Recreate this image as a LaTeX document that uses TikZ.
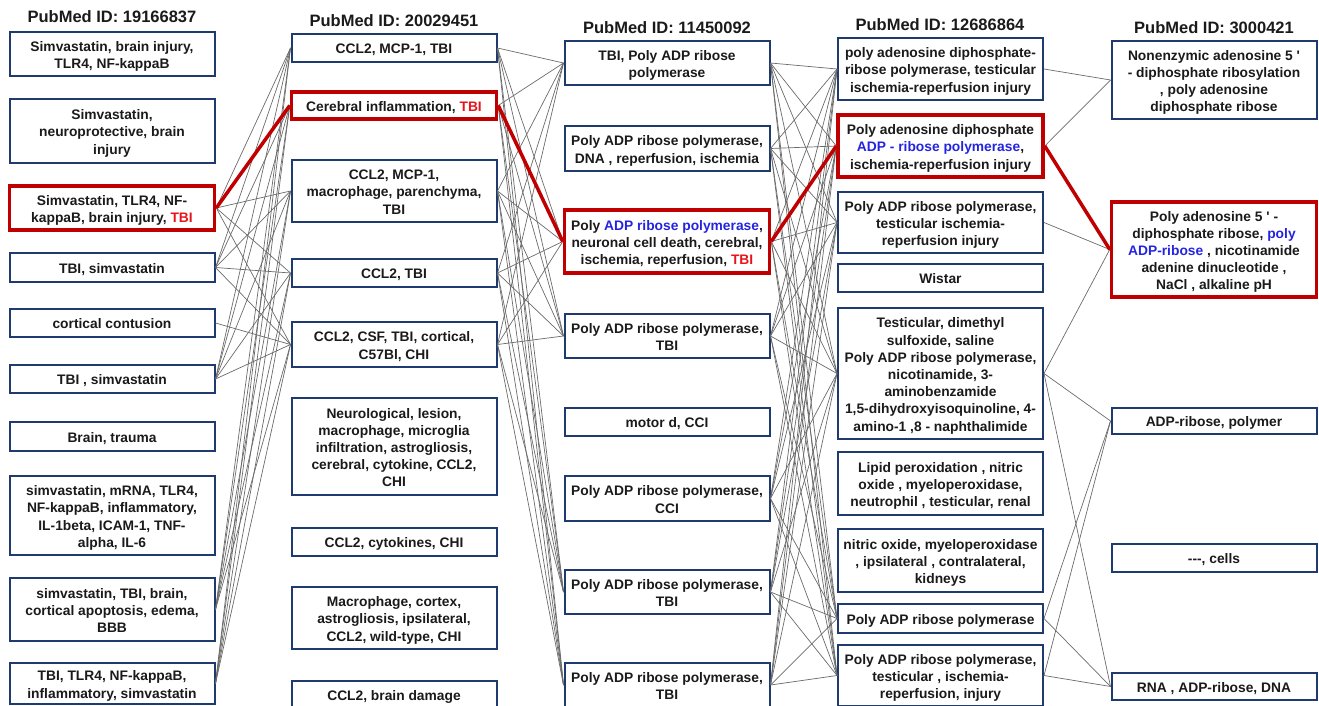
\documentclass[tikz,border=0pt]{standalone}
\usepackage{fontspec}
\setmainfont{Liberation Sans}[Ligatures=TeXOff]
\definecolor{boxblue}{HTML}{1F3A6E}
\definecolor{hlred}{HTML}{C00000}
\definecolor{tbired}{HTML}{E8141B}
\definecolor{kwblue}{HTML}{2424E0}
\definecolor{linkgray}{HTML}{6A6A6A}
\definecolor{txt}{HTML}{1A1A1A}
\newcommand{\rt}[1]{\textcolor{tbired}{#1}}
\newcommand{\bt}[1]{\textcolor{kwblue}{#1}}
\newcommand{\bxt}[1]{\raisebox{-2.5pt}[\height][\depth]{\begin{tabular}{@{}c@{}}#1\end{tabular}}}
\tikzset{
  box/.style={draw=boxblue, line width=2pt, minimum width=205pt, inner xsep=0pt, inner ysep=0pt,
    font=\fontsize{13.8}{17.2}\selectfont\bfseries, text=txt},
  hlbox/.style={box, draw=hlred, line width=3.5pt},
  coltitle/.style={font=\fontsize{16.5}{18}\selectfont\bfseries, text=txt},
  link/.style={draw=linkgray, line width=0.7pt},
  hllink/.style={draw=hlred, line width=3.5pt},
}
\begin{document}
\begin{tikzpicture}[x=1pt,y=-1pt]
\useasboundingbox (0,0) rectangle (1319,706);
% titles
\node[coltitle] (ta) at (112,17) {PubMed ID: 19166837};
\node[coltitle] (tb) at (394,21) {PubMed ID: 20029451};
\node[coltitle] (tc) at (667,28) {PubMed ID: 11450092};
\node[coltitle] (td) at (940,25) {PubMed ID: 12686864};
\node[coltitle] (te) at (1214,28) {PubMed ID: 3000421};
% column A
\node[box, minimum height=44pt] (a1) at (112,54) {\bxt{Simvastatin, brain injury,\\TLR4, NF-kappaB}};
\node[box, minimum height=64pt] (a2) at (112,131) {\bxt{Simvastatin,\\neuroprotective, brain\\injury}};
\node[hlbox, minimum height=44pt] (a3) at (112,208) {\bxt{Simvastatin, TLR4, NF-\\kappaB, brain injury, \rt{TBI}}};
\node[box, minimum height=29pt] (a4) at (112,267.5) {\bxt{TBI, simvastatin}};
\node[box, minimum height=28pt] (a5) at (112,323) {\bxt{cortical contusion}};
\node[box, minimum height=28pt] (a6) at (112,379) {\bxt{TBI , simvastatin}};
\node[box, minimum height=29pt] (a7) at (112,436.5) {\bxt{Brain, trauma}};
\node[box, minimum height=79pt] (a8) at (112,515.5) {\bxt{simvastatin, mRNA, TLR4,\\NF-kappaB, inflammatory,\\IL-1beta, ICAM-1, TNF-\\alpha, IL-6}};
\node[box, minimum height=63pt] (a9) at (112,609.5) {\bxt{simvastatin, TBI, brain,\\cortical apoptosis, edema,\\BBB}};
\node[box, minimum height=41pt] (a10) at (112,683.5) {\bxt{TBI, TLR4, NF-kappaB,\\inflammatory, simvastatin}};
% column B
\node[box, minimum height=28pt] (b1) at (394,48) {\bxt{CCL2, MCP-1, TBI}};
\node[hlbox, minimum height=27pt] (b2) at (394,105.5) {\bxt{Cerebral inflammation, \rt{TBI}}};
\node[box, minimum height=62pt] (b3) at (394,191) {\bxt{CCL2, MCP-1,\\macrophage, parenchyma,\\TBI}};
\node[box, minimum height=28pt] (b4) at (394,273) {\bxt{CCL2, TBI}};
\node[box, minimum height=45pt] (b5) at (394,344.5) {\bxt{CCL2, CSF, TBI, cortical,\\C57Bl, CHI}};
\node[box, minimum height=97pt] (b6) at (394,446.5) {\bxt{Neurological, lesion,\\macrophage, microglia\\infiltration, astrogliosis,\\cerebral, cytokine, CCL2,\\CHI}};
\node[box, minimum height=28pt] (b7) at (394,542) {\bxt{CCL2, cytokines, CHI}};
\node[box, minimum height=62pt] (b8) at (394,618) {\bxt{Macrophage, cortex,\\astrogliosis, ipsilateral,\\CCL2, wild-type, CHI}};
\node[box, minimum height=27pt] (b9) at (394,694.5) {\bxt{CCL2, brain damage}};
% column C
\node[box, minimum height=44pt] (c1) at (667,63) {\bxt{TBI, Poly ADP ribose\\polymerase}};
\node[box, minimum height=45pt] (c2) at (667,148.5) {\bxt{Poly ADP ribose polymerase,\\DNA , reperfusion, ischemia}};
\node[hlbox, minimum height=63pt] (c3) at (667,241.5) {\bxt{Poly \bt{ADP ribose polymerase},\\neuronal cell death, cerebral,\\ischemia, reperfusion, \rt{TBI}}};
\node[box, minimum height=44pt] (c4) at (667,336) {\bxt{Poly ADP ribose polymerase,\\TBI}};
\node[box, minimum height=28pt] (c5) at (667,422) {\bxt{motor d, CCI}};
\node[box, minimum height=45pt] (c6) at (667,498.5) {\bxt{Poly ADP ribose polymerase,\\CCI}};
\node[box, minimum height=44pt] (c7) at (667,592) {\bxt{Poly ADP ribose polymerase,\\TBI}};
\node[box, minimum height=44pt] (c8) at (667,685) {\bxt{Poly ADP ribose polymerase,\\TBI}};
% column D
\node[box, minimum height=62pt] (d1) at (940.5,69) {\bxt{poly adenosine diphosphate-\\ribose polymerase, testicular\\ischemia-reperfusion injury}};
\node[hlbox, minimum height=62pt] (d2) at (940.5,146) {\bxt{Poly adenosine diphosphate\\\bt{ADP - ribose polymerase},\\ischemia-reperfusion injury}};
\node[box, minimum height=61pt] (d3) at (940.5,222.5) {\bxt{Poly ADP ribose polymerase,\\testicular ischemia-\\reperfusion injury}};
\node[box, minimum height=28pt] (d4) at (940.5,278) {\bxt{Wistar}};
\node[box, minimum height=131pt] (d5) at (940.5,373.5) {\bxt{Testicular, dimethyl\\sulfoxide, saline\\Poly ADP ribose polymerase,\\nicotinamide, 3-\\aminobenzamide\\1,5-dihydroxyisoquinoline, 4-\\amino-1 ,8 - naphthalimide}};
\node[box, minimum height=63pt] (d6) at (940.5,483.5) {\bxt{Lipid peroxidation , nitric\\oxide , myeloperoxidase,\\neutrophil , testicular, renal}};
\node[box, minimum height=63pt] (d7) at (940.5,560.5) {\bxt{nitric oxide, myeloperoxidase\\, ipsilateral , contralateral,\\kidneys}};
\node[box, minimum height=29pt] (d8) at (940.5,618.5) {\bxt{Poly ADP ribose polymerase}};
\node[box, minimum height=61pt] (d9) at (940.5,675.5) {\bxt{Poly ADP ribose polymerase,\\testicular , ischemia-\\reperfusion, injury}};
% column E
\node[box, minimum height=78pt] (e1) at (1214,80) {\bxt{Nonenzymic adenosine 5 '\\- diphosphate ribosylation\\, poly adenosine\\diphosphate ribose}};
\node[hlbox, minimum height=95pt] (e2) at (1214,249.5) {\bxt{Poly adenosine 5 ' -\\diphosphate ribose, \bt{poly}\\\bt{ADP-ribose} , nicotinamide\\adenine dinucleotide ,\\NaCl , alkaline pH}};
\node[box, minimum height=26pt] (e3) at (1214,421) {\bxt{ADP-ribose, polymer}};
\node[box, minimum height=28pt] (e4) at (1214,558) {\bxt{{-}{-}{-}, cells}};
\node[box, minimum height=27pt] (e5) at (1214,686.5) {\bxt{RNA , ADP-ribose, DNA}};
% gray connectors A -> B
\foreach \s in {a3,a4,a6,a9,a10}
  \foreach \t in {b1,b2,b3,b4,b5}
    \draw[link] (\s.east) -- (\t.west);
\draw[link] (a5.east) -- (b5.west);
% B -> C
\foreach \s in {b1,b2,b3,b4,b5}
  \foreach \t in {c1,c3,c4,c7,c8}
    \draw[link] (\s.east) -- (\t.west);
% C -> D
\foreach \s in {c1,c2,c3,c4,c6,c7,c8}
  \foreach \t in {d1,d2,d3,d5,d8,d9}
    \draw[link] (\s.east) -- (\t.west);
% D -> E
\foreach \s/\t in {d1/e1,d2/e1,d3/e2,d5/e2,d5/e3,d5/e5,d8/e3,d8/e5,d9/e3,d9/e5}
  \draw[link] (\s.east) -- (\t.west);
% highlighted path
\draw[hllink] (a3.east) -- (b2.west);
\draw[hllink] (b2.east) -- (c3.west);
\draw[hllink] (c3.east) -- (d2.west);
\draw[hllink] (d2.east) -- (e2.west);
\end{tikzpicture}
\end{document}
